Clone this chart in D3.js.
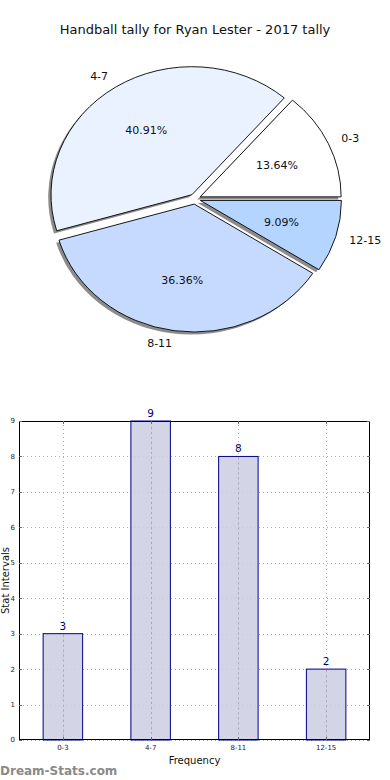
<!DOCTYPE html>
<html><head><meta charset="utf-8">
<script src="https://cdn.jsdelivr.net/npm/d3@7"></script>
<style>
html,body{margin:0;padding:0;background:#fff;}
svg{display:block;font-family:"DejaVu Sans",sans-serif;}
</style></head>
<body>
<svg id="c" width="390" height="780"></svg>
<script>
const categories = ["0-3", "4-7", "8-11", "12-15"];
const values = [3, 9, 8, 2];
const yTicks = [0, 1, 2, 3, 4, 5, 6, 7, 8, 9];
const titleText = "Handball tally for Ryan Lester - 2017 tally";

const pieColors = ["#ffffff", "#ebf2ff", "#c6d9ff", "#b4d5ff"];
const svg = d3.select("#c");

// Title
svg.append("text").attr("x", 195).attr("y", 34).attr("text-anchor", "middle")
  .attr("font-size", 13).attr("fill", "#111").text(titleText);

// ---- Pie (elliptical, matplotlib-like: start at 3 o'clock, counter-clockwise)
const cx = 195, cy = 199, rx = 141, ry = 128, explode = 0.04;
const total = d3.sum(values);
const pie = d3.pie().sort(null).startAngle(Math.PI / 2).endAngle(Math.PI / 2 - 2 * Math.PI);
const arcs = pie(values);
const arcGen = d3.arc().innerRadius(0).outerRadius(1);
const gPie = svg.append("g");

function offs(d, k) {
  const a = (d.startAngle + d.endAngle) / 2;
  return [cx + Math.sin(a) * k * rx, cy - Math.cos(a) * k * ry];
}
// shadows
arcs.forEach((d) => {
  const [ox, oy] = offs(d, explode);
  gPie.append("path").attr("d", arcGen(d))
    .attr("transform", `translate(${ox - 2.8},${oy + 2.6}) scale(${rx},${ry})`)
    .attr("fill", "#8c8c8c").attr("stroke", "none");
});
// wedges
arcs.forEach((d, i) => {
  const [ox, oy] = offs(d, explode);
  gPie.append("path").attr("d", arcGen(d))
    .attr("transform", `translate(${ox},${oy}) scale(${rx},${ry})`)
    .attr("fill", pieColors[i]).attr("stroke", "#000").attr("stroke-width", 0.9)
    .attr("vector-effect", "non-scaling-stroke").attr("stroke-linejoin", "miter");
});
// labels
arcs.forEach((d, i) => {
  const a = (d.startAngle + d.endAngle) / 2;
  const [lx, ly] = offs(d, explode + 1.1);
  gPie.append("text").attr("x", lx).attr("y", ly).attr("dy", "0.36em")
    .attr("text-anchor", Math.sin(a) >= 0 ? "start" : "end")
    .attr("font-size", 11).attr("fill", "#111").text(categories[i]);
  const [px, py] = offs(d, explode + 0.6);
  gPie.append("text").attr("x", px).attr("y", py).attr("dy", "0.36em")
    .attr("text-anchor", "middle").attr("font-size", 11).attr("fill", "#111")
    .text((values[i] / total * 100).toFixed(2) + "%");
});

// ---- Bar chart
const L = 19, R = 370, T = 421, B = 740;
const x = d3.scaleLinear().domain([-0.5, categories.length - 0.5]).range([L, R]);
const y = d3.scaleLinear().domain([0, 9]).range([B, T]);
const barW = 0.45;
const gB = svg.append("g");

// grid
const gridStyle = (sel) => sel.attr("stroke", "#b0b0b0").attr("stroke-width", 1).attr("stroke-dasharray", "1,3");
yTicks.forEach(t => {
  gB.append("line").attr("x1", L).attr("x2", R).attr("y1", Math.round(y(t)) + 0.5).attr("y2", Math.round(y(t)) + 0.5).call(gridStyle);
});
categories.forEach((c, i) => {
  gB.append("line").attr("x1", Math.round(x(i)) + 0.5).attr("x2", Math.round(x(i)) + 0.5).attr("y1", T).attr("y2", B).call(gridStyle);
});

// bars
categories.forEach((c, i) => {
  gB.append("rect").attr("x", x(i - barW / 2)).attr("y", y(values[i]))
    .attr("width", x(i + barW / 2) - x(i - barW / 2)).attr("height", y(0) - y(values[i]))
    .attr("fill", "#ccccE3").attr("fill-opacity", 0.85).attr("stroke", "#00008b").attr("stroke-width", 1);
});
// grid over bars
categories.forEach((c, i) => {
  gB.append("line").attr("x1", Math.round(x(i)) + 0.5).attr("x2", Math.round(x(i)) + 0.5).attr("y1", y(values[i]) + 1).attr("y2", B).attr("stroke", "#a8a8b8").attr("stroke-width", 1).attr("stroke-dasharray", "2,3");
});
// value labels
categories.forEach((c, i) => {
  gB.append("text").attr("x", x(i)).attr("y", y(values[i]) - 4).attr("text-anchor", "middle")
    .attr("font-size", 10.5).attr("fill", "#00007a").text(values[i]);
});

// frame
gB.append("rect").attr("x", L + 0.5).attr("y", T + 0.5).attr("width", R - L - 1).attr("height", B - T - 1)
  .attr("fill", "none").attr("stroke", "#000").attr("stroke-width", 1);

// ticks
yTicks.forEach(t => {
  const yy = Math.round(y(t)) + 0.5;
  gB.append("line").attr("x1", L).attr("x2", L + 3).attr("y1", yy).attr("y2", yy).attr("stroke", "#666");
  gB.append("line").attr("x1", R - 3).attr("x2", R).attr("y1", yy).attr("y2", yy).attr("stroke", "#666");
  gB.append("text").attr("x", L - 4).attr("y", y(t)).attr("dy", "0.35em").attr("text-anchor", "end")
    .attr("font-size", 7).attr("fill", "#222").text(t);
});
categories.forEach((c, i) => {
  const xx = Math.round(x(i)) + 0.5;
  gB.append("line").attr("x1", xx).attr("x2", xx).attr("y1", B - 3).attr("y2", B).attr("stroke", "#666");
  gB.append("line").attr("x1", xx).attr("x2", xx).attr("y1", T).attr("y2", T + 3).attr("stroke", "#666");
  gB.append("text").attr("x", x(i)).attr("y", B + 10).attr("text-anchor", "middle")
    .attr("font-size", 7).attr("fill", "#222").text(c);
});

// axis labels
svg.append("text").attr("x", (L + R) / 2).attr("y", 764).attr("text-anchor", "middle")
  .attr("font-size", 10).attr("fill", "#111").text("Frequency");
svg.append("text").attr("transform", `translate(9,${(T + B) / 2}) rotate(-90)`).attr("text-anchor", "middle")
  .attr("font-size", 10).attr("fill", "#111").text("Stat Intervals");

// watermark
svg.append("text").attr("x", 0).attr("y", 775).attr("font-size", 12).attr("fill", "#8a8a8a")
  .attr("font-weight", "600").text("Dream-Stats.com");
</script>
</body></html>
